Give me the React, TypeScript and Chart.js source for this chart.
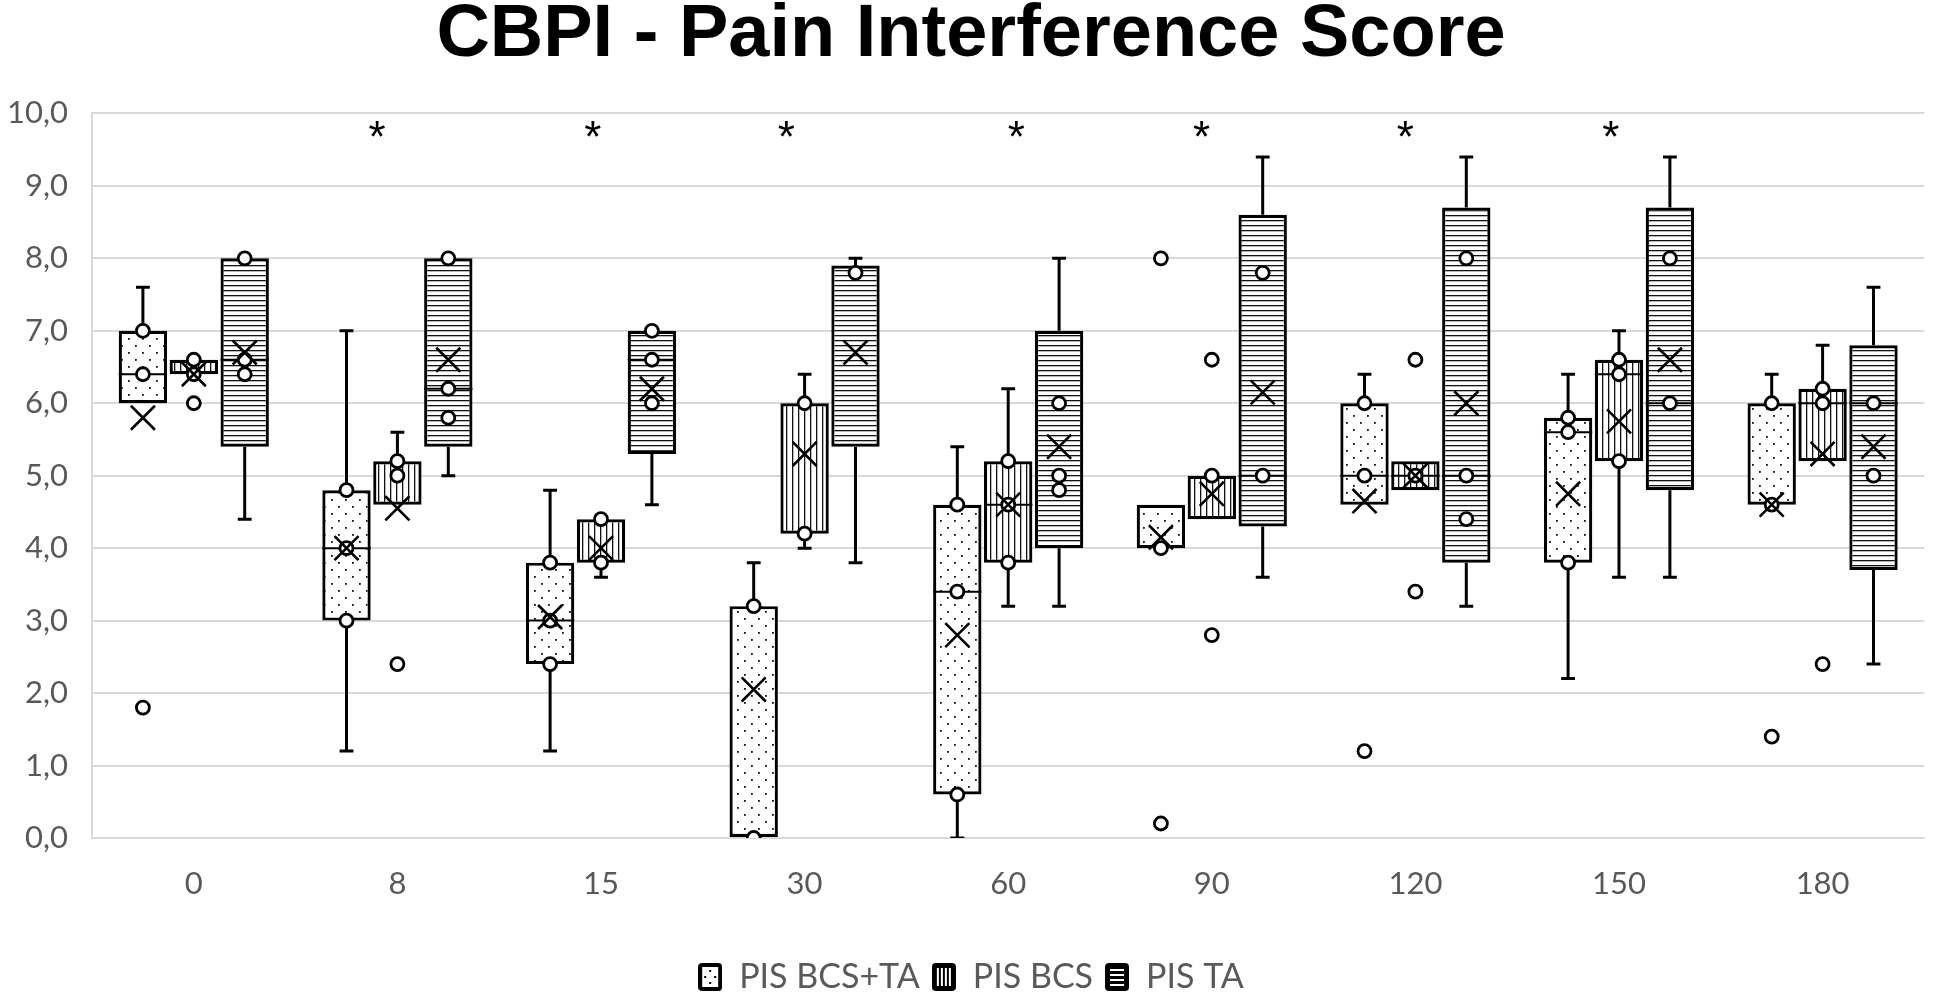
import React, { useEffect, useRef } from 'react';
import { Chart, registerables } from 'chart.js';

Chart.register(...registerables);

// ---------------- data ----------------
const categories = ['0', '8', '15', '30', '60', '90', '120', '150', '180'];
const seriesNames = ['PIS BCS+TA', 'PIS BCS', 'PIS TA'];
const yTickValues = [0, 1, 2, 3, 4, 5, 6, 7, 8, 9, 10];

// PIS BCS+TA
const s1Q1 = [6.0, 3.0, 2.4, 0.0, 0.6, 4.0, 4.6, 3.8, 4.6];
const s1Q3 = [7.0, 4.8, 3.8, 3.2, 4.6, 4.6, 6.0, 5.8, 6.0];
const s1Median = [6.4, 4.0, 3.0, null, 3.4, null, 5.0, 5.6, null];
const s1Min = [6.0, 1.2, 1.2, 0.0, 0.0, 4.0, 4.6, 2.2, 4.6];
const s1Max = [7.6, 7.0, 4.8, 3.8, 5.4, 4.6, 6.4, 6.4, 6.4];
const s1Mean = [5.8, 4.0, 3.05, 2.05, 2.8, 4.15, 4.65, 4.75, 4.6];
const s1Points = [[7.0, 6.4, 1.8], [4.8, 4.0, 3.0], [3.8, 3.0, 2.4], [3.2, 0.0], [4.6, 3.4, 0.6], [4.0, 8.0, 0.2], [6.0, 5.0, 1.2], [5.8, 5.6, 3.8], [6.0, 4.6, 1.4]];

// PIS BCS
const s2Q1 = [6.4, 4.6, 3.8, 4.2, 3.8, 4.4, 4.8, 5.2, 5.2];
const s2Q3 = [6.6, 5.2, 4.4, 6.0, 5.2, 5.0, 5.2, 6.6, 6.2];
const s2Median = [null, null, null, null, 4.6, null, 5.0, 6.4, 6.0];
const s2Min = [6.4, 4.6, 3.6, 4.0, 3.2, 4.4, 4.8, 3.6, 5.2];
const s2Max = [6.6, 5.6, 4.4, 6.4, 6.2, 5.0, 5.2, 7.0, 6.8];
const s2Mean = [6.4, 4.55, 4.0, 5.3, 4.6, 4.75, 5.0, 5.75, 5.3];
const s2Points = [[6.6, 6.4, 6.0], [5.2, 5.0, 2.4], [4.4, 3.8], [6.0, 4.2], [5.2, 4.6, 3.8], [5.0, 6.6, 2.8], [5.0, 6.6, 3.4], [6.6, 6.4, 5.2], [6.2, 6.0, 2.4]];

// PIS TA
const s3Q1 = [5.4, 5.4, 5.3, 5.4, 4.0, 4.3, 3.8, 4.8, 3.7];
const s3Q3 = [8.0, 8.0, 7.0, 7.9, 7.0, 8.6, 8.7, 8.7, 6.8];
const s3Median = [6.6, 6.2, 6.6, null, null, 5.0, 5.0, 6.0, 6.0];
const s3Min = [4.4, 5.0, 4.6, 3.8, 3.2, 3.6, 3.2, 3.6, 2.4];
const s3Max = [8.0, 8.0, 7.0, 8.0, 8.0, 9.4, 9.4, 9.4, 7.6];
const s3Mean = [6.7, 6.6, 6.2, 6.7, 5.4, 6.15, 6.0, 6.6, 5.4];
const s3Points = [[8.0, 6.6, 6.4], [8.0, 6.2, 5.8], [7.0, 6.6, 6.0], [7.8], [6.0, 5.0, 4.8], [7.8, 5.0], [8.0, 5.0, 4.4], [8.0, 6.0], [6.0, 5.0]];

// significance markers: category position of each "*"
const asteriskPositions = [0.9, 1.96, 2.91, 4.04, 4.95, 5.95, 6.96];
const asteriskLevel = 9.82;

// ---------------- geometry (style) ----------------
const SLOT = 0.25; // distance between the three boxes of a group, in category units
const BAR_PCT = 0.95;
const BOX_HALF = (SLOT * BAR_PCT) / 2;
const CAP_HALF = 0.034;
const FONT = 'Lato';
const GREY = '#595959';

type Series = {
  q1: number[]; q3: number[]; median: (number | null)[]; min: number[]; max: number[]; mean: number[]; points: number[][];
};
const series: Series[] = [
  { q1: s1Q1, q3: s1Q3, median: s1Median, min: s1Min, max: s1Max, mean: s1Mean, points: s1Points },
  { q1: s2Q1, q3: s2Q3, median: s2Median, min: s2Min, max: s2Max, mean: s2Mean, points: s2Points },
  { q1: s3Q1, q3: s3Q3, median: s3Median, min: s3Min, max: s3Max, mean: s3Mean, points: s3Points },
];

function makePattern(kind: number): CanvasPattern | string {
  const c = document.createElement('canvas');
  const g = c.getContext('2d');
  if (!g) return '#fff';
  if (kind === 0) {
    c.width = 14; c.height = 14;
    g.fillStyle = '#fff'; g.fillRect(0, 0, 14, 14);
    g.fillStyle = '#111';
    g.fillRect(2, 2, 1.8, 1.8);
    g.fillRect(9, 9, 1.8, 1.8);
  } else if (kind === 1) {
    c.width = 6; c.height = 6;
    g.fillStyle = '#fff'; g.fillRect(0, 0, 6, 6);
    g.fillStyle = '#111'; g.fillRect(0, 0, 1.3, 6);
  } else {
    c.width = 5; c.height = 5;
    g.fillStyle = '#fff'; g.fillRect(0, 0, 5, 5);
    g.fillStyle = '#111'; g.fillRect(0, 0, 5, 1.3);
  }
  return g.createPattern(c, 'repeat') || '#fff';
}

function makeIcon(kind: number): HTMLCanvasElement {
  const c = document.createElement('canvas');
  c.width = 24; c.height = 28;
  const g = c.getContext('2d')!;
  g.fillStyle = '#000';
  g.beginPath();
  g.roundRect(0, 0, 24, 28, 4);
  g.fill();
  if (kind === 0) {
    g.fillStyle = '#fff'; g.fillRect(4, 4, 16, 20);
    g.fillStyle = '#000';
    g.fillRect(11, 7, 2, 2); g.fillRect(6, 13, 2, 2); g.fillRect(16, 13, 2, 2); g.fillRect(11, 19, 2, 2);
  } else if (kind === 1) {
    g.fillStyle = '#fff';
    [5, 9, 13, 17].forEach((x) => g.fillRect(x, 5, 2, 18));
  } else {
    g.fillStyle = '#fff';
    [7, 12, 17, 22].forEach((y) => g.fillRect(5, y - 1, 14, 2));
  }
  return c;
}

const asteriskPlugin = {
  id: 'asterisks',
  afterDatasetsDraw(chart: any) {
    const xs = chart.scales.x2;
    const ys = chart.scales.y;
    const ctx = chart.ctx;
    const size = 44;
    ctx.save();
    ctx.fillStyle = '#000';
    ctx.font = `${size}px "Liberation Sans"`;
    ctx.textAlign = 'center';
    ctx.textBaseline = 'alphabetic';
    asteriskPositions.forEach((p) => {
      ctx.fillText('*', xs.getPixelForValue(p), ys.getPixelForValue(asteriskLevel) + 0.57 * size);
    });
    ctx.restore();
  },
};

export default function App() {
  const ref = useRef<HTMLCanvasElement | null>(null);

  useEffect(() => {
    if (!ref.current) return;
    const datasets: any[] = [];
    const icons = [0, 1, 2].map(makeIcon);

    series.forEach((s, si) => {
      const off = SLOT * (si - 1);
      // whiskers
      const wh: any[] = [];
      categories.forEach((_, ci) => {
        const xc = ci + off;
        if (s.max[ci] > s.q3[ci]) {
          wh.push({ x: xc, y: s.q3[ci] }, { x: xc, y: s.max[ci] }, { x: xc, y: null });
          wh.push({ x: xc - CAP_HALF, y: s.max[ci] }, { x: xc + CAP_HALF, y: s.max[ci] }, { x: xc, y: null });
        }
        if (s.min[ci] < s.q1[ci]) {
          wh.push({ x: xc, y: s.q1[ci] }, { x: xc, y: s.min[ci] }, { x: xc, y: null });
          wh.push({ x: xc - CAP_HALF, y: s.min[ci] }, { x: xc + CAP_HALF, y: s.min[ci] }, { x: xc, y: null });
        }
      });
      datasets.push({
        type: 'line', xAxisID: 'x2', data: wh, borderColor: '#000', borderWidth: 3,
        pointRadius: 0, spanGaps: false, fill: false, order: 10, borderCapStyle: 'butt',
      });
      // boxes (q1..q3), positioned on the hidden linear axis
      datasets.push({
        type: 'bar', label: seriesNames[si], xAxisID: 'x2',
        data: s.q1.map((v, ci) => ({ x: ci + off, y: [v, s.q3[ci]] })),
        backgroundColor: makePattern(si), borderColor: '#000', borderWidth: 3.2, borderSkipped: false,
        grouped: false, categoryPercentage: 1, barPercentage: BAR_PCT, order: 5,
      });
      // medians
      const md: any[] = [];
      s.median.forEach((m, ci) => {
        if (m === null) return;
        const xc = ci + off;
        md.push({ x: xc - BOX_HALF, y: m }, { x: xc + BOX_HALF, y: m }, { x: xc, y: null });
      });
      datasets.push({
        type: 'line', xAxisID: 'x2', data: md, borderColor: '#000', borderWidth: 2,
        pointRadius: 0, spanGaps: false, fill: false, order: 3,
      });
      // points
      const pts: any[] = [];
      s.points.forEach((arr, ci) => arr.forEach((v) => pts.push({ x: ci + off, y: v })));
      datasets.push({
        type: 'scatter', xAxisID: 'x2', data: pts, pointStyle: 'circle', pointRadius: 6.5,
        borderColor: '#000', borderWidth: 2.8, backgroundColor: '#fff', order: 2,
      });
      // means
      datasets.push({
        type: 'scatter', xAxisID: 'x2', data: s.mean.map((v, ci) => ({ x: ci + off, y: v })),
        pointStyle: 'crossRot', pointRadius: 17, borderColor: '#000', borderWidth: 2.6,
        backgroundColor: 'rgba(0,0,0,0)', order: 1,
      });
    });

    const chart = new Chart(ref.current, {
      type: 'bar',
      data: { labels: categories, datasets },
      plugins: [asteriskPlugin],
      options: {
        responsive: false,
        animation: false,
        devicePixelRatio: 1,
        events: [],
        layout: { padding: { left: 0, right: 2, top: 0, bottom: -8 } },
        plugins: {
          title: {
            display: true,
            text: 'CBPI - Pain Interference Score',
            color: '#000',
            font: { family: 'Liberation Sans', size: 74, weight: 'bold', lineHeight: 1.1 },
            padding: { top: -5, bottom: 37 },
          },
          legend: {
            position: 'bottom',
            labels: {
              font: { family: FONT, size: 34 },
              color: GREY,
              padding: 12,
              usePointStyle: true,
              boxWidth: 24,
              boxHeight: 26,
              generateLabels: () =>
                seriesNames.map((name, i) => ({
                  text: name, fillStyle: '#000', strokeStyle: '#000', lineWidth: 0,
                  pointStyle: icons[i], hidden: false, datasetIndex: i, fontColor: GREY,
                })),
            },
          },
          tooltip: { enabled: false },
        },
        scales: {
          x: {
            type: 'category',
            offset: true,
            grid: { display: false, drawTicks: false },
            border: { display: true, color: '#d9d9d9', width: 2 },
            ticks: { font: { family: FONT, size: 31 }, color: GREY, padding: 27 },
            afterFit: (s: any) => { s.height = 110; },
          },
          x2: { type: 'linear', display: false, offset: false, min: -0.5, max: 8.5 },
          y: {
            min: 0,
            max: 10,
            afterBuildTicks: (s: any) => { s.ticks = yTickValues.map((v) => ({ value: v })); },
            ticks: {
              font: { family: FONT, size: 31 },
              color: GREY,
              padding: 24,
              callback: (v: any) => Number(v).toFixed(1).replace('.', ','),
            },
            grid: { color: '#d9d9d9', lineWidth: 2, drawTicks: false },
            border: { display: true, color: '#d9d9d9', width: 2 },
            afterFit: (s: any) => { s.width = 92; },
          },
        },
      } as any,
    });
    return () => chart.destroy();
  }, []);

  return (
    <div style={{ position: 'fixed', left: 0, top: 0, width: 1944, height: 996, background: '#fff' }}>
      <canvas ref={ref} width={1944} height={996} style={{ display: 'block' }} />
    </div>
  );
}
